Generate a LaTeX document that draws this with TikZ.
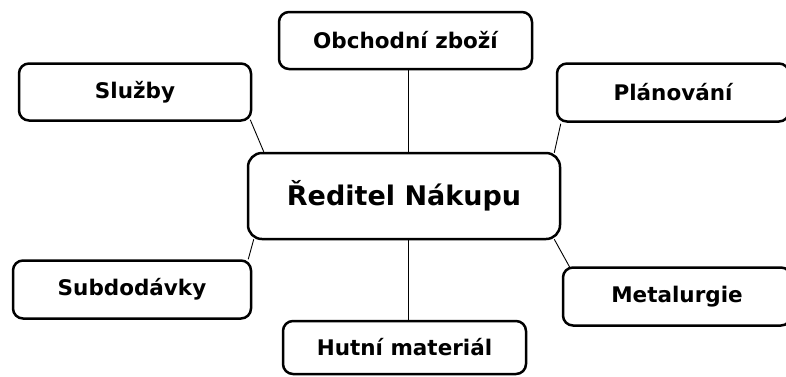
\documentclass[tikz,border=0pt]{standalone}
\usepackage{fontspec}
\setmainfont{DejaVu Sans}
\tikzset{
  box/.style={draw, line width=2.5pt, rounded corners=10pt, inner sep=0pt,
    font=\bfseries\fontsize{21.5}{26}\selectfont},
  hub/.style={box, rounded corners=14pt, font=\bfseries\fontsize{27}{32}\selectfont},
  link/.style={line width=0.9pt},
}
\begin{document}
\begin{tikzpicture}[x=1pt,y=-1pt]
	% Rahmen
	\useasboundingbox (0,0) rectangle (786,376);
	\clip (0,0) rectangle (786,376);
	% Mitte
	\node[hub, minimum width=312pt, minimum height=86pt] (ctr) at (404,196) {Ředitel Nákupu};
	% Aussen
	\node[box, minimum width=253pt, minimum height=57pt] (obz) at (405.5,40.5) {Obchodní zboží};
	\node[box, minimum width=232pt, minimum height=57pt] (slu) at (135,92) {Služby};
	\node[box, minimum width=232pt, minimum height=58pt] (pla) at (673,92.5) {Plánování};
	\node[box, minimum width=238pt, minimum height=58pt] (sub) at (132,289.5) {Subdodávky};
	\node[box, minimum width=228pt, minimum height=58pt] (met) at (677,296.5) {Metalurgie};
	\node[box, minimum width=243pt, minimum height=53pt] (hut) at (404.5,347.5) {Hutní materiál};
	% Linien
	\draw[link] ([xshift=2.5pt]obz.south) -- ([xshift=4pt]ctr.north);
	\draw[link] ([xshift=4pt]ctr.south) -- ([xshift=3.5pt]hut.north);
	\draw[link] ([xshift=-2pt,yshift=2pt]slu.south east) -- ([xshift=17pt]ctr.north west);
	\draw[link] ([xshift=5pt,yshift=-1pt]pla.south west) -- ([xshift=-7pt,yshift=-1pt]ctr.north east);
	\draw[link] ([xshift=7pt,yshift=1pt]ctr.south west) -- ([xshift=-4pt]sub.north east);
	\draw[link] ([xshift=-7pt,yshift=1pt]ctr.south east) -- ([xshift=8pt,yshift=-1pt]met.north west);
\end{tikzpicture}
\end{document}
